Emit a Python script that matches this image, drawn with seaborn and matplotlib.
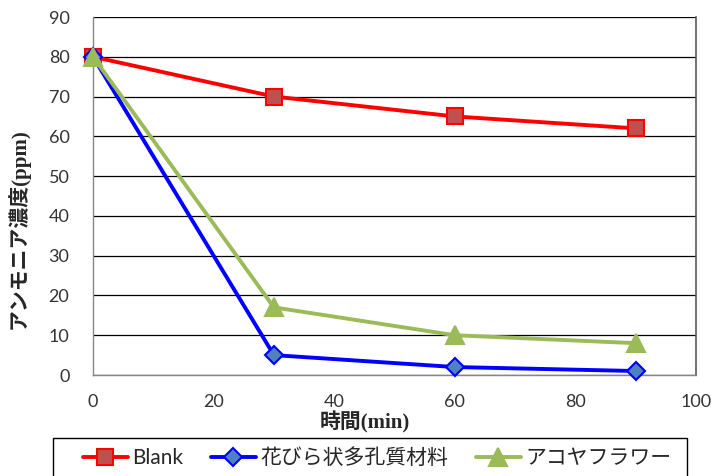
import matplotlib
matplotlib.use("Agg")
import matplotlib.pyplot as plt
from matplotlib.patches import Rectangle
import seaborn as sns
import pandas as pd

time_min = [0, 30, 60, 90]
blank = [80, 70, 65, 62]
petal_porous = [80, 5, 2, 1]
akoya_flower = [80, 17, 10, 8]
series_names = ["Blank", "花びら状多孔質材料", "アコヤフラワー"]
x_ticks = [0, 20, 40, 60, 80, 100]
y_ticks = [0, 10, 20, 30, 40, 50, 60, 70, 80, 90]

sns.set_theme(style="white")
plt.rcParams["font.family"] = ["Lato", "Noto Sans CJK JP", "DejaVu Sans"]

W, H = 727, 476
fig = plt.figure(figsize=(W / 100, H / 100), dpi=100)
ax = fig.add_axes([93 / W, 1 - 375 / H, (696 - 93) / W, (375 - 17) / H])

df = pd.DataFrame({"time": time_min, "blank": blank,
                   "petal": petal_porous, "akoya": akoya_flower})

styles = [
    ("blank", series_names[0], "#FF0000", "s", 11.5, "#C0504D", "#FF0000"),
    ("petal", series_names[1], "#0000FF", "D", 9, "#4F81BD", "#0000FF"),
    ("akoya", series_names[2], "#9BBB59", "^", 12.5, "#9BBB59", "#9BBB59"),
]
for col, name, lc, mk, ms, mfc, mec in styles:
    sns.lineplot(data=df, x="time", y=col, ax=ax, color=lc, linewidth=2.8,
                 marker=mk, markersize=ms, markerfacecolor=mfc,
                 markeredgecolor=mec, markeredgewidth=1.5, label=name,
                 legend=False, zorder=3, clip_on=False)

ax.set_xlim(0, 100)
ax.set_ylim(0, 90)
ax.set_xticks(x_ticks)
ax.set_yticks(y_ticks)
ax.yaxis.grid(True, color="black", linewidth=0.9)
ax.xaxis.grid(False)
ax.set_axisbelow(True)

for side in ["left", "bottom"]:
    ax.spines[side].set_color("#868686")
    ax.spines[side].set_linewidth(1.0)
ax.spines["right"].set_color("#595959")
ax.spines["right"].set_linewidth(1.2)
ax.spines["top"].set_visible(False)

ax.tick_params(axis="both", which="major", direction="out", length=4.5,
               width=1, color="#868686", labelsize=13, labelcolor="#333333")
ax.tick_params(axis="y", pad=12.5)
ax.tick_params(axis="x", pad=9.5)

label_family = ["Liberation Serif", "Noto Sans CJK JP", "DejaVu Sans"]
ax.set_xlabel("時間(min)", fontsize=15, fontweight="bold", family=label_family)
ax.set_ylabel("アンモニア濃度(ppm)", fontsize=15, fontweight="bold", family=label_family)
ax.xaxis.set_label_coords((365 - 93) / 603, (375 - 411) / 358)
ax.xaxis.label.set_va("top")
ax.yaxis.set_label_coords((30 - 93) / 603, (375 - 229) / 358)

handles, labels = ax.get_legend_handles_labels()
leg = fig.legend(handles, labels, loc="center left",
                 bbox_to_anchor=(83 / W, 1 - 458 / H), ncol=3,
                 frameon=False, handlelength=2.15, columnspacing=1.35,
                 handletextpad=0.2, borderpad=0, borderaxespad=0,
                 prop={"family": ["Lato", "Noto Sans CJK JP", "DejaVu Sans"], "size": 15})

# legend border box running past the bottom edge
fig.add_artist(Rectangle((53 / W, 1 - 495 / H), (687 - 53) / W, (495 - 438) / H,
                         transform=fig.transFigure, fill=False,
                         edgecolor="black", linewidth=1.0))

fig.savefig("out.png", dpi=100)
